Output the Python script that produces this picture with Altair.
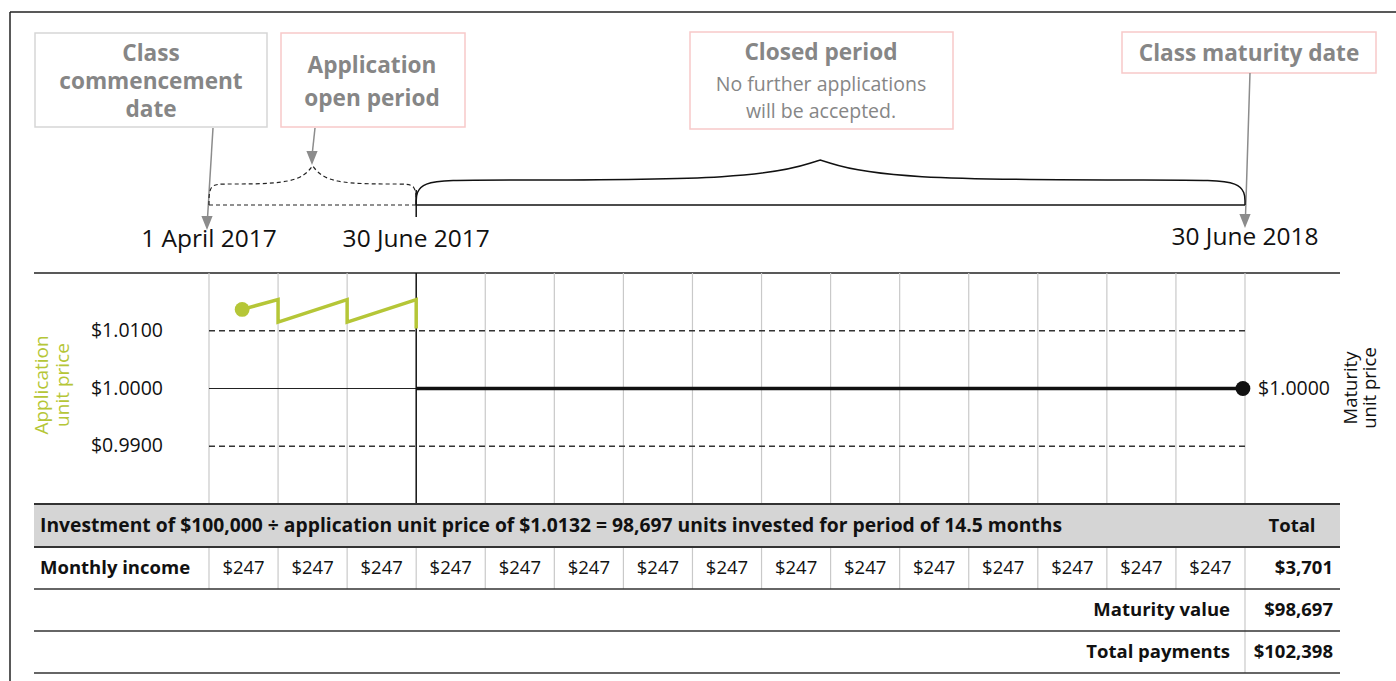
import altair as alt
import pandas as pd

# ---------------- chart values ----------------
month_edges = [0, 1, 2, 3, 4, 5, 6, 7, 8, 9, 10, 11, 12, 13, 14, 15]   # 0 = 1 April 2017, 15 = 30 June 2018
open_period = [0, 3]
closed_period = [3, 15]
key_date_months = [0, 3, 15]
key_date_labels = ["1 April 2017", "30 June 2017", "30 June 2018"]

price_ticks = [1.01, 1.00, 0.99]
price_tick_labels = ["$1.0100", "$1.0000", "$0.9900"]
price_dashed = [1.01, 0.99]
price_range = [0.98, 1.02]

app_months = [0.48, 1, 1, 2, 2, 3, 3]
app_prices = [1.0137, 1.0154, 1.0115, 1.0154, 1.0115, 1.0154, 1.0104]

mat_months = [3, 14.97]
mat_prices = [1.0, 1.0]
mat_label = "$1.0000"

income_months = [0, 1, 2, 3, 4, 5, 6, 7, 8, 9, 10, 11, 12, 13, 14]
income_values = [247, 247, 247, 247, 247, 247, 247, 247, 247, 247, 247, 247, 247, 247, 247]
row_labels = ["Monthly income", "Maturity value", "Total payments"]
row_totals = [3701, 98697, 102398]
header_text = "Investment of $100,000 ÷ application unit price of $1.0132 = 98,697 units invested for period of 14.5 months"
header_total = "Total"

box_title_lines = ["Class", "commencement", "date", "Application", "open period",
                   "Closed period", "Class maturity date"]
box_note_lines = ["No further applications", "will be accepted."]
left_title = ["Application", "unit price"]
right_title = ["Maturity", "unit price"]

# ---------------- layout / style ----------------
W, H = 1396, 681
FONT = "Open Sans"
GREEN = "#b5c637"
GREY_TXT = "#868686"
ARROW = "#8c8c8c"
GRID = "#c9c9c9"

MX = alt.Scale(domain=[0, 15], range=[209, 1245], nice=False, zero=False)
PY = alt.Scale(domain=price_range, range=[504, 273], nice=False, zero=False)
LX = alt.Scale(domain=[0, W], range=[0, W], nice=False, zero=False)
LY = alt.Scale(domain=[0, H], range=[0, H], nice=False, zero=False)


def XQ(f, s):
    return alt.X(f, type="quantitative", scale=s, axis=None)


def YQ(f, s):
    return alt.Y(f, type="quantitative", scale=s, axis=None)


def rules(df, xs, ys, **kw):
    return alt.Chart(df).mark_rule(**kw).encode(
        x=XQ("x", xs), x2=alt.X2("x2"), y=YQ("y", ys), y2=alt.Y2("y2"))


def texts(df, xs, ys, field="t", fmt=None, **kw):
    base = dict(font=FONT, baseline="middle")
    base.update(kw)
    t = alt.Text(field, type="quantitative", format=fmt) if fmt else alt.Text(field, type="nominal")
    return alt.Chart(df).mark_text(**base).encode(x=XQ("x", xs), y=YQ("y", ys), text=t)


layers = []

# outer frame
layers.append(rules(pd.DataFrame({"x": [10, 10], "x2": [W, 10], "y": [12, 12], "y2": [12, H]}),
                    LX, LY, color="#222", strokeWidth=1.5))

# annotation boxes
boxes = pd.DataFrame({
    "x": [35, 281, 690, 1122], "x2": [267, 465, 953, 1376],
    "y": [33, 33, 32, 32], "y2": [127, 127, 129, 73],
    "s": ["#d6d6d6", "#f8c9c9", "#f8c9c9", "#f8c9c9"]})
layers.append(alt.Chart(boxes).mark_rect(fill="white", strokeWidth=1.5).encode(
    x=XQ("x", LX), x2=alt.X2("x2"), y=YQ("y", LY), y2=alt.Y2("y2"),
    stroke=alt.Stroke("s:N", scale=None)))

title_pos_x = [151, 151, 151, 372, 372, 821, 1249]
title_pos_y = [54, 82, 110, 66, 99, 53, 54]
layers.append(texts(pd.DataFrame({"x": title_pos_x, "y": title_pos_y, "t": box_title_lines}),
                    LX, LY, fontSize=22.6, fontWeight="bold", color=GREY_TXT, align="center"))
layers.append(texts(pd.DataFrame({"x": [821, 821], "y": [85, 112], "t": box_note_lines}),
                    LX, LY, fontSize=19.5, color=GREY_TXT, align="center"))

# arrows
layers.append(rules(pd.DataFrame({"x": [213, 315, 1250], "x2": [207.5, 312.2, 1245.5],
                                  "y": [128, 128, 73], "y2": [218, 154, 216]}),
                    LX, LY, color=ARROW, strokeWidth=1.5))
layers.append(alt.Chart(pd.DataFrame({"x": [207, 312, 1245], "y": [223, 158, 221]})).mark_point(
    shape="M-0.8,-1L0.8,-1L0,1Z", filled=True, size=196, color=ARROW, opacity=1, strokeWidth=0).encode(
    x=XQ("x", LX), y=YQ("y", LY)))

# timeline
layers.append(rules(pd.DataFrame({"x": [open_period[0]], "x2": [open_period[1]], "y": [205], "y2": [205]}),
                    MX, LY, color="#222", strokeWidth=1.2, strokeDash=[4, 3]))
layers.append(rules(pd.DataFrame({"x": [closed_period[0], closed_period[0]], "x2": [closed_period[1], closed_period[0]],
                                  "y": [205, 190], "y2": [205, 217]}),
                    MX, LY, color="#111", strokeWidth=1.5))


def brace(m0, m1, mpk, base, flat, peak, r):
    pts = [(m0, base), (m0, flat), (m0 + r, flat), (mpk - r, flat),
           (mpk, peak), (mpk, peak), (mpk, peak),
           (mpk + r, flat), (m1 - r, flat), (m1, flat), (m1, base)]
    return pd.DataFrame({"x": [p[0] for p in pts], "y": [p[1] for p in pts], "i": list(range(len(pts)))})


layers.append(alt.Chart(brace(open_period[0], open_period[1], 1.5, 205, 184, 166, 0.22)).mark_line(
    interpolate="basis", color="#222", strokeWidth=1.2, strokeDash=[4, 3]).encode(
    x=XQ("x", MX), y=YQ("y", LY), order="i:Q"))
layers.append(alt.Chart(brace(closed_period[0], closed_period[1], 8.85, 205, 180, 160, 0.9)).mark_line(
    interpolate="basis", color="#111", strokeWidth=1.5).encode(
    x=XQ("x", MX), y=YQ("y", LY), order="i:Q"))

# key date labels
layers.append(texts(pd.DataFrame({"x": key_date_months, "y": [240, 240, 238], "t": key_date_labels}),
                    MX, LY, fontSize=24.5, color="#111", align="center"))

# ---------------- price chart ----------------
layers.append(rules(pd.DataFrame({"x": [34], "x2": [1340], "y": [273], "y2": [273]}),
                    LX, LY, color="#222", strokeWidth=1.5))
grid = pd.DataFrame({"x": [m for m in month_edges if m != 3]})
grid["y"] = price_range[1]
grid["y2"] = price_range[0]
layers.append(alt.Chart(grid).mark_rule(color=GRID, strokeWidth=1.2).encode(
    x=XQ("x", MX), y=YQ("y", PY), y2=alt.Y2("y2")))
dash_df = pd.DataFrame({"y": price_dashed, "x": [0] * len(price_dashed), "x2": [15] * len(price_dashed)})
layers.append(alt.Chart(dash_df).mark_rule(color="#333", strokeWidth=1.3, strokeDash=[6, 4]).encode(
    x=XQ("x", MX), x2=alt.X2("x2"), y=YQ("y", PY)))
layers.append(alt.Chart(pd.DataFrame({"x": [0], "x2": [3], "y": [1.0]})).mark_rule(color="#222", strokeWidth=1.2).encode(
    x=XQ("x", MX), x2=alt.X2("x2"), y=YQ("y", PY)))
layers.append(alt.Chart(pd.DataFrame({"x": [3], "y": [price_range[1]], "y2": [price_range[0]]})).mark_rule(
    color="#111", strokeWidth=1.5).encode(x=XQ("x", MX), y=YQ("y", PY), y2=alt.Y2("y2")))

app_df = pd.DataFrame({"x": app_months, "y": app_prices, "i": list(range(len(app_months)))})
layers.append(alt.Chart(app_df).mark_line(color=GREEN, strokeWidth=3.5, strokeJoin="miter").encode(
    x=XQ("x", MX), y=YQ("y", PY), order="i:Q"))
layers.append(alt.Chart(app_df.iloc[[0]]).mark_circle(color=GREEN, size=220, opacity=1).encode(
    x=XQ("x", MX), y=YQ("y", PY)))
mat_df = pd.DataFrame({"x": mat_months, "y": mat_prices, "i": [0, 1]})
layers.append(alt.Chart(mat_df).mark_line(color="#111", strokeWidth=3.5).encode(
    x=XQ("x", MX), y=YQ("y", PY), order="i:Q"))
layers.append(alt.Chart(mat_df.iloc[[1]]).mark_circle(color="#111", size=220, opacity=1).encode(
    x=XQ("x", MX), y=YQ("y", PY)))

layers.append(alt.Chart(pd.DataFrame({"y": price_ticks, "t": price_tick_labels})).mark_text(
    font=FONT, fontSize=19.5, color="#111", align="right", baseline="middle").encode(
    x=alt.value(163), y=YQ("y", PY), text="t:N"))
layers.append(alt.Chart(pd.DataFrame({"x": [15], "y": [mat_prices[1]], "t": [mat_label]})).mark_text(
    font=FONT, fontSize=19.5, color="#111", align="left", baseline="middle", dx=13).encode(
    x=XQ("x", MX), y=YQ("y", PY), text="t:N"))
layers.append(texts(pd.DataFrame({"x": [42, 63], "y": [385, 385], "t": left_title}),
                    LX, LY, fontSize=19, color=GREEN, align="center", angle=270))
layers.append(texts(pd.DataFrame({"x": [1351, 1370], "y": [388, 388], "t": right_title}),
                    LX, LY, fontSize=18.5, color="#111", align="center", angle=270))

# ---------------- table ----------------
layers.append(alt.Chart(pd.DataFrame({"x": [34], "x2": [1340], "y": [505], "y2": [546]})).mark_rect(
    fill="#d5d5d5").encode(x=XQ("x", LX), x2=alt.X2("x2"), y=YQ("y", LY), y2=alt.Y2("y2")))
cells = pd.DataFrame({"x": month_edges, "x2": month_edges,
                      "y": [547] * 16, "y2": [589] * 15 + [673]})
layers.append(rules(cells, MX, LY, color=GRID, strokeWidth=1.2))
hl = pd.DataFrame({"x": [34] * 5, "x2": [1340] * 5, "y": [504, 547, 589, 631, 673], "y2": [504, 547, 589, 631, 673]})
layers.append(rules(hl.iloc[[0, 1]], LX, LY, color="#333", strokeWidth=2))
layers.append(rules(hl.iloc[[2, 3, 4]], LX, LY, color="#333", strokeWidth=1.4))

layers.append(texts(pd.DataFrame({"x": [40], "y": [526], "t": [header_text]}),
                    LX, LY, fontSize=19.3, fontWeight="bold", color="#111", align="left"))
layers.append(texts(pd.DataFrame({"x": [40], "y": [568], "t": [row_labels[0]]}),
                    LX, LY, fontSize=18.5, fontWeight="bold", color="#111", align="left"))
layers.append(texts(pd.DataFrame({"x": [1292], "y": [526], "t": [header_total]}),
                    LX, LY, fontSize=18.5, fontWeight="bold", color="#111", align="center"))
layers.append(texts(pd.DataFrame({"x": [m + 0.5 for m in income_months], "y": [568] * 15, "v": income_values}),
                    MX, LY, field="v", fmt="$,d", fontSize=18.5, color="#111", align="center"))
layers.append(texts(pd.DataFrame({"x": [1230, 1230], "y": [610, 652], "t": row_labels[1:]}),
                    LX, LY, fontSize=18.5, fontWeight="bold", color="#111", align="right"))
layers.append(texts(pd.DataFrame({"x": [1333] * 3, "y": [568, 610, 652], "v": row_totals}),
                    LX, LY, field="v", fmt="$,d", fontSize=18.5, fontWeight="bold", color="#111", align="right"))

chart = alt.layer(*layers).resolve_scale(x="independent", y="independent").properties(
    width=W, height=H, padding=0, background="white",
    autosize=alt.AutoSizeParams(type="none")).configure_view(stroke=None)

chart.save("out.html", embed_options={"renderer": "svg", "actions": False})
